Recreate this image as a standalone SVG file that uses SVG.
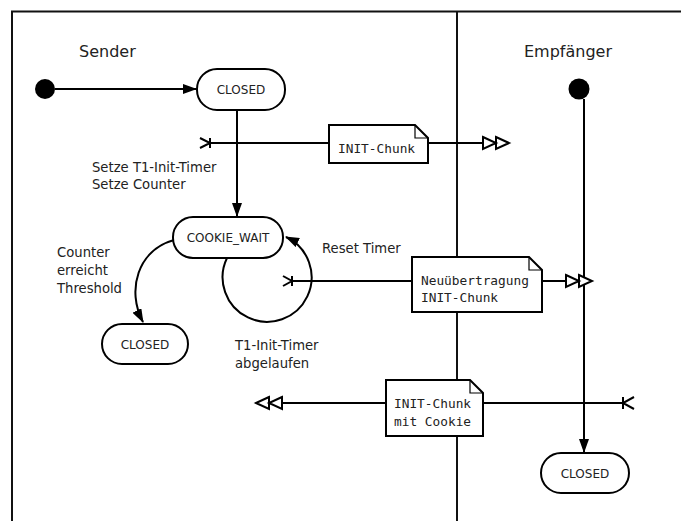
<svg xmlns="http://www.w3.org/2000/svg" width="681" height="521" viewBox="0 0 681 521">
  <style>
    .frame { fill: none; stroke: #111; stroke-width: 2; }
    .line { fill: none; stroke: #000; stroke-width: 2; }
    .state rect { fill: #fff; stroke: #000; stroke-width: 2; }
    .state text { font-family: "DejaVu Sans", sans-serif; font-size: 12px; fill: #222; text-anchor: middle; }
    .note path { fill: #fff; stroke: #000; stroke-width: 2; stroke-linejoin: miter; }
    .note path.fold { fill: none; stroke-width: 1.2; }
    .note text { font-family: "DejaVu Sans Mono", monospace; font-size: 12.8px; fill: #222; }
    .lane { font-family: "DejaVu Sans", sans-serif; font-size: 16px; fill: #222; }
    .label { font-family: "DejaVu Sans", sans-serif; font-size: 13.2px; fill: #222; }
    .dot { fill: #000; }
    .open { fill: #fff; stroke: #000; stroke-width: 2; stroke-linejoin: miter; }
    .tick { fill: none; stroke: #000; stroke-width: 2; }
  </style>
  <defs>
    <marker id="arrow" markerUnits="userSpaceOnUse" markerWidth="14" markerHeight="10" viewBox="0 0 14 10" refX="13" refY="5" orient="auto">
      <path d="M0 0 L14 5 L0 10 Z" fill="#000"/>
    </marker>
  </defs>

  <rect width="681" height="521" fill="#fff"/>

  <!-- swimlane frame -->
  <g id="frame">
    <path class="frame" d="M12 521 V11.5 H681"/>
    <path class="frame" d="M457 11.5 V521"/>
    <text class="lane" x="79" y="57">Sender</text>
    <text class="lane" x="524" y="57">Empfänger</text>
  </g>

  <!-- transitions and signal flows -->
  <g id="connectors">
    <path class="line" d="M55 89 H196" marker-end="url(#arrow)"/>
    <path class="line" d="M237 110 V216" marker-end="url(#arrow)"/>
    <path class="line" d="M174 240 C138 250 126 290 143 322" marker-end="url(#arrow)"/>
    <path class="line" d="M227 258 A44.5 44.5 0 1 0 286 237" marker-end="url(#arrow)"/>
    <path class="line" d="M584 99 V452" marker-end="url(#arrow)"/>

    <!-- INIT-Chunk -->
    <path class="line" d="M210 143 H329 M428 143 H483"/>
    <path class="tick" d="M200 138 L210 143 L200 148 M210 138 V148"/>
    <path class="open" d="M483 137 L496 143 L483 149 Z M496 137 L509 143 L496 149 Z"/>

    <!-- retransmission -->
    <path class="line" d="M292 281 H412 M542 281 H566"/>
    <path class="tick" d="M283 276 L292 281 L283 286 M292 276 V286"/>
    <path class="open" d="M566 275 L579 281 L566 287 Z M579 275 L592 281 L579 287 Z"/>

    <!-- INIT-Chunk with cookie -->
    <path class="line" d="M282 403 H386 M483 403 H623"/>
    <path class="tick" d="M634 397 L623 403 L634 409 M623 397 V409"/>
    <path class="open" d="M282 397 L269 403 L282 409 Z M269 397 L256 403 L269 409 Z"/>

    <text class="label" x="92" y="172">Setze T1-Init-Timer</text>
    <text class="label" x="92" y="189">Setze Counter</text>
    <text class="label" x="57" y="257">Counter</text>
    <text class="label" x="57" y="275">erreicht</text>
    <text class="label" x="57" y="292.5">Threshold</text>
    <text class="label" x="322" y="253">Reset Timer</text>
    <text class="label" x="235" y="350">T1-Init-Timer</text>
    <text class="label" x="235" y="367.5">abgelaufen</text>
  </g>

  <g id="sender-start"><circle class="dot" cx="45" cy="89" r="10"/></g>
  <g id="receiver-start"><circle class="dot" cx="579" cy="89" r="10.5"/></g>

  <g id="sender-closed" class="state">
    <rect x="197" y="69" width="88" height="41" rx="20"/>
    <text x="241" y="94">CLOSED</text>
  </g>
  <g id="cookie-wait" class="state">
    <rect x="173" y="217" width="110" height="41" rx="20"/>
    <text x="228" y="242">COOKIE_WAIT</text>
  </g>
  <g id="sender-closed-2" class="state">
    <rect x="102" y="324" width="86" height="40" rx="20"/>
    <text x="145" y="348.5">CLOSED</text>
  </g>
  <g id="receiver-closed" class="state">
    <rect x="541" y="453" width="88" height="40" rx="20"/>
    <text x="585" y="477.5">CLOSED</text>
  </g>

  <g id="note-init" class="note">
    <path d="M329 125 H415 L428 138 V163 H329 Z"/>
    <path class="fold" d="M415 125 V138 H428"/>
    <text x="338" y="153">INIT-Chunk</text>
  </g>
  <g id="note-retransmit" class="note">
    <path d="M412 257 H529 L542 270 V312 H412 Z"/>
    <path class="fold" d="M529 257 V270 H542"/>
    <text x="421" y="285">Neuübertragung</text>
    <text x="421" y="302">INIT-Chunk</text>
  </g>
  <g id="note-cookie" class="note">
    <path d="M386 380 H470 L483 393 V436 H386 Z"/>
    <path class="fold" d="M470 380 V393 H483"/>
    <text x="394" y="408">INIT-Chunk</text>
    <text x="394" y="426">mit Cookie</text>
  </g>
</svg>
